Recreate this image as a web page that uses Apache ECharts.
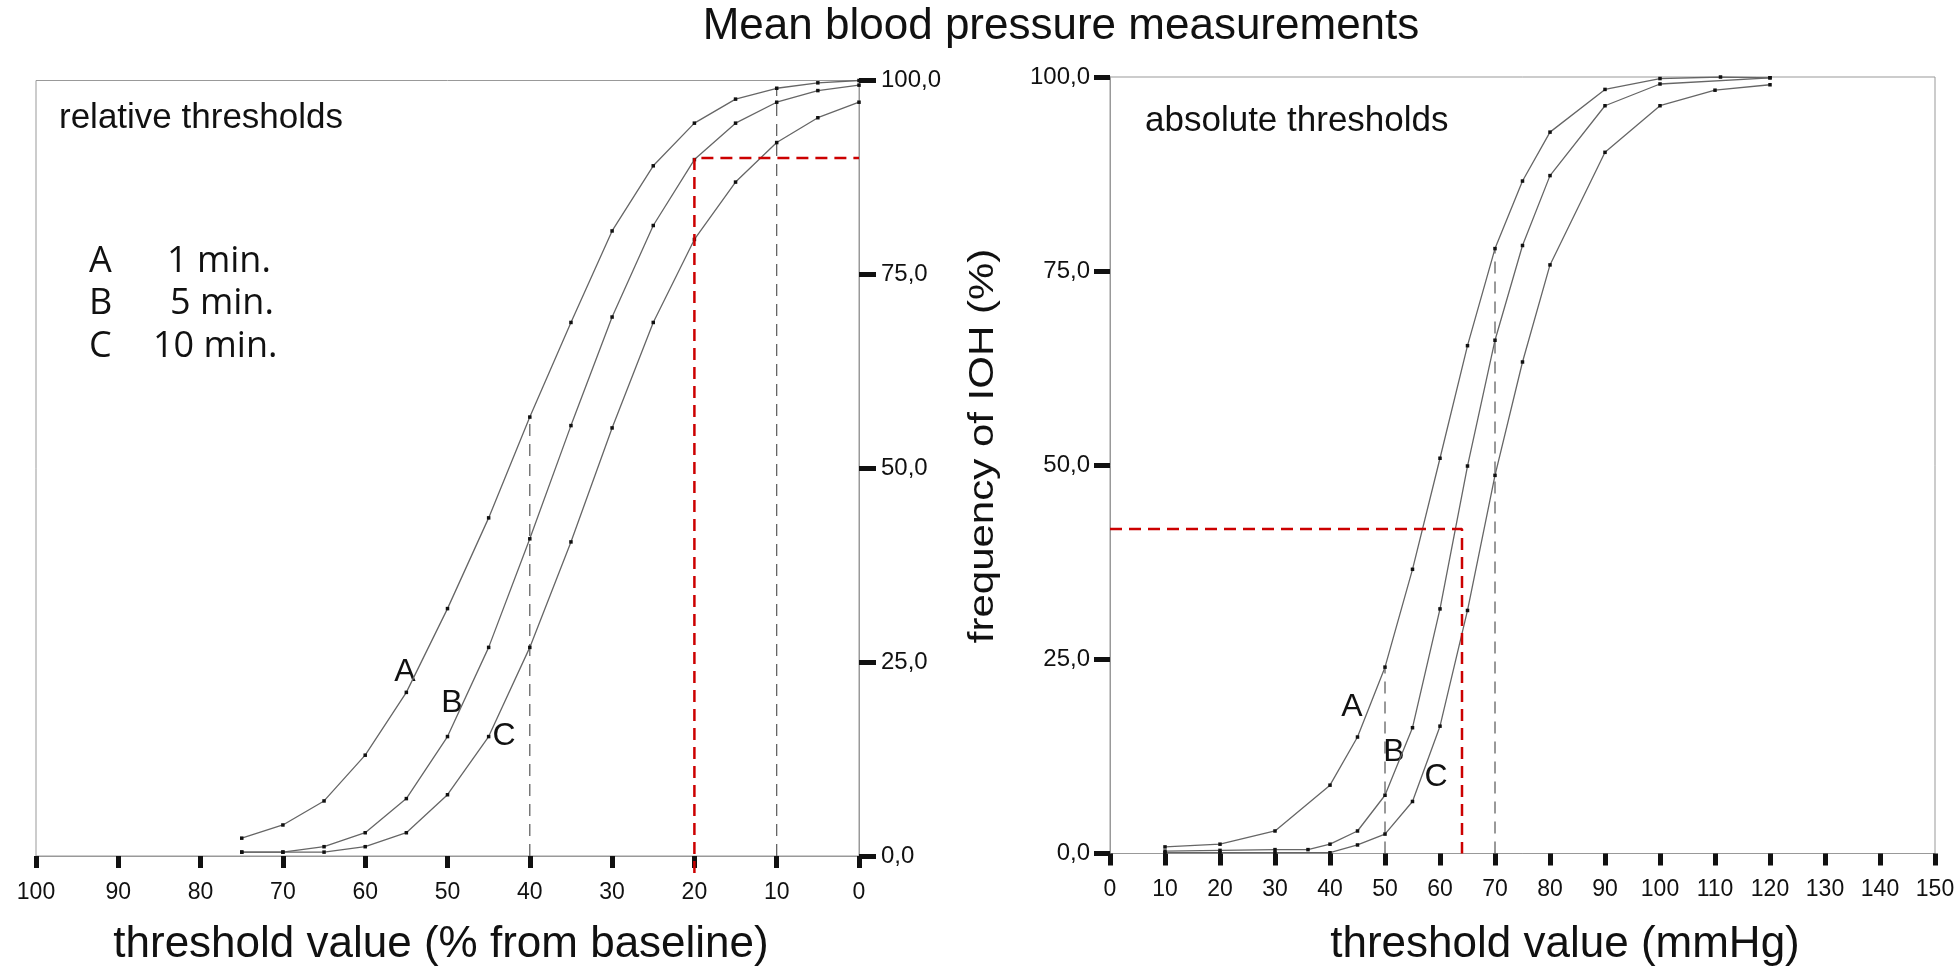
<!DOCTYPE html>
<html>
<head>
<meta charset="utf-8">
<script src="https://cdn.jsdelivr.net/npm/echarts@6/dist/echarts.min.js"></script>
<style>
  html, body { margin: 0; padding: 0; background: #fff; }
  #chart { width: 1959px; height: 967px; }
</style>
</head>
<body>
<div id="chart"></div>
<script>
// relative thresholds (% from baseline)
const relX = [75, 70, 65, 60, 55, 50, 45, 40, 35, 30, 25, 20, 15, 10, 5, 0];
const relA = [2.3, 4.0, 7.1, 13.0, 21.1, 31.9, 43.6, 56.6, 68.8, 80.6, 89.0, 94.5, 97.6, 99.0, 99.7, 100];
const relB = [0.5, 0.5, 1.2, 3.0, 7.4, 15.4, 26.9, 40.9, 55.5, 69.5, 81.3, 89.8, 94.5, 97.2, 98.7, 99.4];
const relC = [0.5, 0.5, 0.5, 1.2, 3.0, 7.9, 15.4, 26.9, 40.5, 55.2, 68.8, 79.5, 86.9, 92.0, 95.2, 97.2];

// absolute thresholds (mmHg)
const absAx = [10, 20, 30, 40, 45, 50, 55, 60, 65, 70, 75, 80, 90, 100, 111, 120];
const absA  = [0.85, 1.2, 2.9, 8.8, 15.0, 24.0, 36.6, 50.9, 65.4, 77.9, 86.6, 92.9, 98.4, 99.8, 100, 99.9];
const absBx = [10, 20, 30, 36, 40, 45, 50, 55, 60, 65, 70, 75, 80, 90, 100, 120];
const absB  = [0.3, 0.4, 0.5, 0.5, 1.2, 2.9, 7.5, 16.2, 31.5, 49.9, 66.1, 78.3, 87.3, 96.3, 99.1, 99.9];
const absCx = [10, 20, 30, 40, 45, 50, 55, 60, 65, 70, 75, 80, 90, 100, 110, 120];
const absC  = [0.1, 0.1, 0.1, 0.1, 1.1, 2.5, 6.7, 16.4, 31.3, 48.7, 63.3, 75.8, 90.3, 96.3, 98.3, 99.0];

// guide lines
const relGuides = [40, 10];
const absGuides = [50, 70];
const relRed = { x: 20, y: 90, below: -2.2 };
const absRed = { x: 64, y: 41.8 };

const legendKeys = ['A', 'B', 'C'];
const legendText = ['1 min.', '5 min.', '10 min.'];

const ARIAL = '"Liberation Sans", Arial, sans-serif';
const chart = echarts.init(document.getElementById('chart'));

function pairs(xs, ys) { return xs.map((x, i) => [x, ys[i]]); }

function curve(xs, ys, gi) {
  return {
    type: 'line', xAxisIndex: gi, yAxisIndex: gi,
    data: pairs(xs, ys),
    symbol: 'rect', symbolSize: 3.5, showSymbol: true,
    itemStyle: { color: '#111' },
    lineStyle: { color: '#666', width: 1.3 },
    silent: true, z: 3
  };
}

function guide(x, xs, ys, gi) {
  return {
    type: 'line', xAxisIndex: gi, yAxisIndex: gi,
    data: [[x, 0], [x, ys[xs.indexOf(x)]]],
    symbol: 'none',
    lineStyle: { color: '#555', width: 1.2, type: [12, 8] },
    silent: true, z: 2
  };
}

function red(data, gi) {
  return {
    type: 'line', xAxisIndex: gi, yAxisIndex: gi, data, clip: false,
    symbol: 'none',
    lineStyle: { color: '#cc0000', width: 2.5, type: [12, 7] },
    silent: true, z: 4
  };
}

function xAx(gi, max, inverse) {
  return {
    gridIndex: gi, type: 'value', min: 0, max, interval: 10, inverse,
    axisLine: { lineStyle: { color: '#999', width: 1 } },
    axisTick: { length: 12, lineStyle: { color: '#111', width: 5 } },
    axisLabel: { fontSize: 23, color: '#111', margin: 25, fontFamily: ARIAL },
    splitLine: { show: false }
  };
}

function yAx(gi, position, margin, tick) {
  return {
    gridIndex: gi, type: 'value', min: 0, max: 100, interval: 25, position,
    axisLine: { show: true, lineStyle: { color: '#999', width: 1 } },
    axisTick: { show: true, length: tick, lineStyle: { color: '#111', width: 5 } },
    axisLabel: {
      fontSize: 24, color: '#111', margin, fontFamily: ARIAL,
      formatter: v => v.toFixed(1).replace('.', ',')
    },
    splitLine: { show: false }
  };
}

function txt(x, y, s, size, extra, family) {
  const align = (extra && extra.align) || 'center';
  return Object.assign({
    type: 'text', x, y, silent: true,
    style: {
      text: s, font: size + 'px ' + (family || ARIAL), fill: '#111',
      align, textAlign: align, verticalAlign: 'middle', textVerticalAlign: 'middle'
    }
  }, extra && extra.el);
}

const texts = [
  txt(1061, 27, 'Mean blood pressure measurements', 44),
  txt(441, 945, 'threshold value (% from baseline)', 44),
  txt(1565, 945, 'threshold value (mmHg)', 44),
  txt(983, 446, 'frequency of IOH (%)', 35, { el: { rotation: Math.PI / 2, scaleX: 1.2 } }),
  txt(59, 118, 'relative thresholds', 35, { align: 'left' }),
  txt(1145, 121, 'absolute thresholds', 35, { align: 'left' }),
  txt(405, 672, 'A', 32), txt(452, 703, 'B', 32), txt(504, 736, 'C', 32),
  txt(1352, 707, 'A', 32), txt(1394, 752, 'B', 32), txt(1436, 777, 'C', 32)
];
const legendY = [262, 304, 347];
const legendX = [167, 170, 153];
legendKeys.forEach((k, i) => {
  texts.push(txt(89, legendY[i], k, 36, { align: 'left' }, '"Open Sans", sans-serif'));
  texts.push(txt(legendX[i], legendY[i], legendText[i], 36, { align: 'left' }, '"Open Sans", sans-serif'));
});

chart.setOption({
  backgroundColor: '#fff',
  animation: false,
  grid: [
    { left: 36, top: 80.5, width: 823, height: 775.5, show: true, borderColor: '#999', borderWidth: 1 },
    { left: 1110, top: 77, width: 825, height: 776.5, show: true, borderColor: '#999', borderWidth: 1 }
  ],
  xAxis: [xAx(0, 100, true), xAx(1, 150, false)],
  yAxis: [yAx(0, 'right', 22, 17), yAx(1, 'left', 20, 16)],
  series: [
    curve(relX, relA, 0), curve(relX, relB, 0), curve(relX, relC, 0),
    curve(absAx, absA, 1), curve(absBx, absB, 1), curve(absCx, absC, 1),
    ...relGuides.map(x => guide(x, relX, relA, 0)),
    ...absGuides.map(x => guide(x, absAx, absA, 1)),
    red([[relRed.x, relRed.below], [relRed.x, relRed.y], [0, relRed.y]], 0),
    red([[0, absRed.y], [absRed.x, absRed.y], [absRed.x, 0]], 1)
  ],
  graphic: texts
});
</script>
</body>
</html>
